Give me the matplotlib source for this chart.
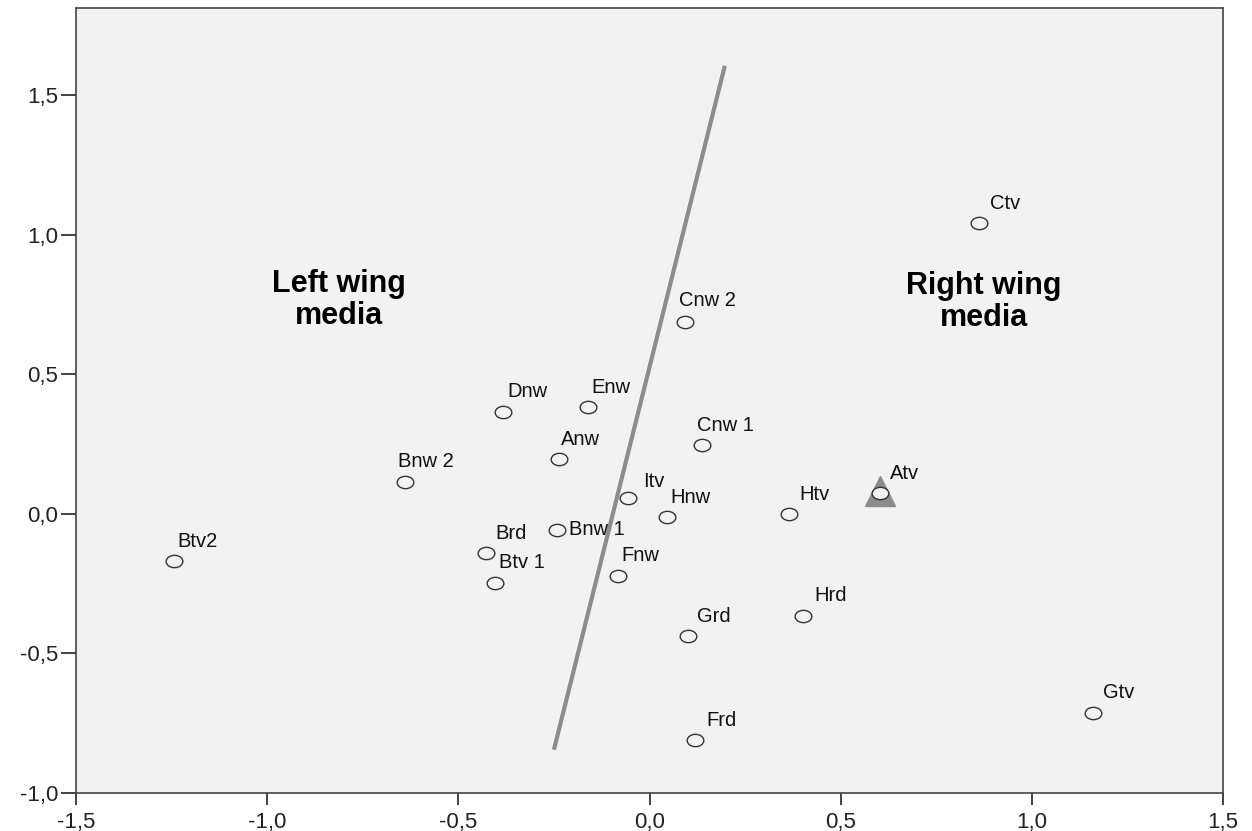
import numpy as np
import matplotlib.pyplot as plt
from matplotlib.path import Path
from matplotlib.transforms import Affine2D

# ---- data ----
labels = ["Btv2", "Bnw 2", "Dnw", "Enw", "Anw", "Bnw 1", "Brd", "Btv 1", "Itv", "Hnw",
          "Fnw", "Cnw 1", "Cnw 2", "Htv", "Atv", "Hrd", "Grd", "Frd", "Gtv", "Ctv"]
dim1 = [-1.244, -0.640, -0.382, -0.162, -0.236, -0.243, -0.428, -0.404, -0.055, 0.047,
        -0.083, 0.137, 0.092, 0.366, 0.603, 0.402, 0.101, 0.119, 1.161, 0.862]
dim2 = [-0.168, 0.115, 0.366, 0.382, 0.196, -0.057, -0.141, -0.246, 0.056, -0.010,
        -0.224, 0.247, 0.688, -0.001, 0.076, -0.365, -0.437, -0.809, -0.712, 1.042]

# highlighted point (triangle)
special_x, special_y = [0.603], [0.082]

# dividing line end points
divider_x = [-0.250, 0.197]
divider_y = [-0.845, 1.605]

# label offsets in pixels (dx, dy to baseline)
label_offsets = {
    "Btv2": (3, 14), "Bnw 2": (-7, 15), "Dnw": (4, 15), "Enw": (4, 14), "Anw": (2, 14),
    "Bnw 1": (12, 0), "Brd": (10, 14), "Btv 1": (4, 15), "Itv": (15, 11), "Hnw": (3, 14),
    "Fnw": (4, 15), "Cnw 1": (-5, 14), "Cnw 2": (-6, 16), "Htv": (10, 14), "Atv": (10, 14),
    "Hrd": (11, 15), "Grd": (9, 14), "Frd": (11, 14), "Gtv": (10, 15), "Ctv": (11, 14),
}

plt.rcParams['font.family'] = ['Liberation Sans', 'DejaVu Sans']

fig = plt.figure(figsize=(12.52, 8.31), dpi=100)
ax = fig.add_axes([76 / 1252, 38 / 831, 1147 / 1252, 785 / 831])
ax.set_facecolor('#f2f2f2')

# divider line
ax.plot(divider_x, divider_y, '-', color='#8c8c8c', lw=3.0, solid_capstyle='butt', zorder=2)

# triangle behind Atv
ax.plot(special_x, special_y, marker='^', markersize=22, color='#8c8c8c', ls='none', zorder=3)

# slightly wide ellipse marker
ellipse = Affine2D().scale(1.35, 1.0).transform_path(Path.unit_circle())
ax.plot(dim1, dim2, ls='none', marker=ellipse, markersize=12, markerfacecolor='#f2f2f2',
        markeredgecolor='#333333', markeredgewidth=1.0, zorder=4)

px = 72 / 100  # points per pixel
for lab, x, y in zip(labels, dim1, dim2):
    dx, dy = label_offsets[lab]
    va = 'center' if dy == 0 else 'baseline'
    ax.annotate(lab, (x, y), xytext=(dx * px, dy * px), textcoords='offset points',
                ha='left', va=va, fontsize=14.5, color='#111111', zorder=5)

ax.text(-0.812, 0.766, "Left wing\nmedia", ha='center', va='center', multialignment='center',
        fontsize=22, fontweight='bold', linespacing=1.1)
ax.text(0.875, 0.759, "Right wing\nmedia", ha='center', va='center', multialignment='center',
        fontsize=22, fontweight='bold', linespacing=1.1)

ax.set_xlim(-1.5, 1.5)
ax.set_ylim(-1.0, 1.812)
ax.set_xticks([-1.5, -1.0, -0.5, 0.0, 0.5, 1.0, 1.5])
ax.set_yticks([-1.0, -0.5, 0.0, 0.5, 1.0, 1.5])
ax.set_xticklabels([f"{v:.1f}".replace('.', ',') for v in ax.get_xticks()])
ax.set_yticklabels([f"{v:.1f}".replace('.', ',') for v in ax.get_yticks()])

for side in ['top', 'right', 'left', 'bottom']:
    ax.spines[side].set_color('#444444')
    ax.spines[side].set_linewidth(1.2)
ax.tick_params(axis='x', length=8.5, width=1.2, color='#222222', pad=5, labelsize=16,
               labelcolor='#222222')
ax.tick_params(axis='y', length=11, width=1.2, color='#222222', pad=2, labelsize=16,
               labelcolor='#222222')

fig.savefig('out.png', dpi=100, facecolor='white')
